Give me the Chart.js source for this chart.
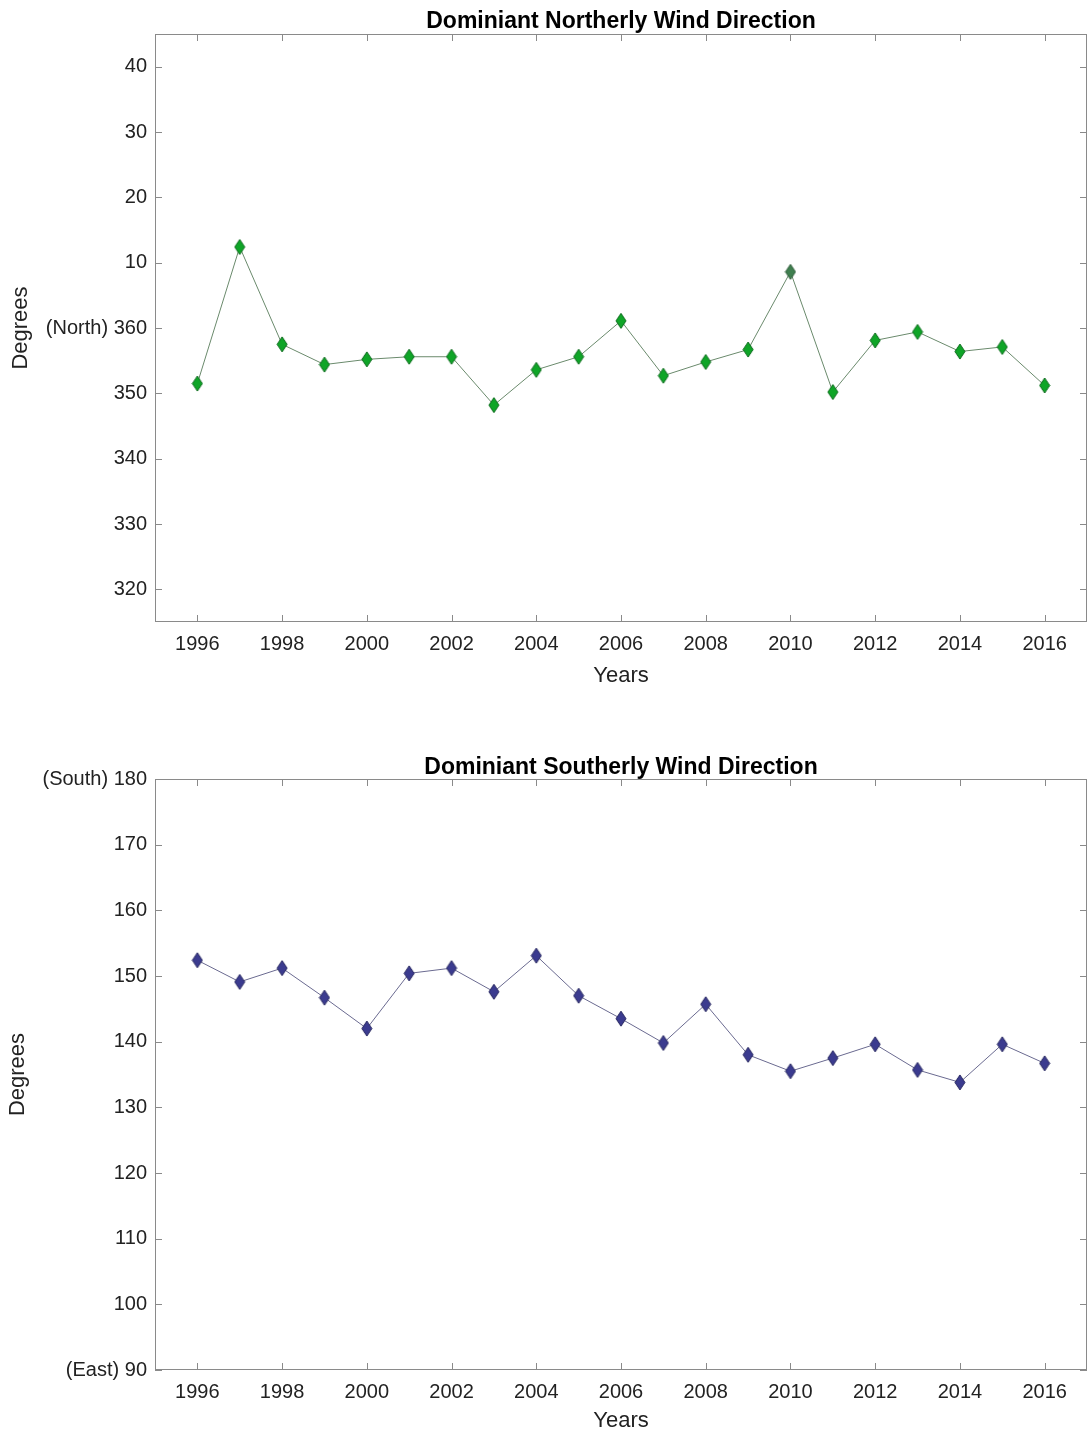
<!DOCTYPE html>
<html>
<head>
<meta charset="utf-8">
<script src="https://cdn.jsdelivr.net/npm/chart.js@4"></script>
<style>
    body { margin: 0; background: #fff; }
    canvas { display: block; }
</style>
</head>
<body>
<canvas id="northChart" width="1089" height="700"></canvas>
<canvas id="southChart" width="1089" height="734"></canvas>
<script>
const years = [1996, 1997, 1998, 1999, 2000, 2001, 2002, 2003, 2004, 2005, 2006,
               2007, 2008, 2009, 2010, 2011, 2012, 2013, 2014, 2015, 2016];

// compass degrees
const northDeg = [351.5, 12.4, 357.5, 354.4, 355.2, 355.6, 355.6, 348.2, 353.6, 355.6, 1.1,
                  352.7, 354.8, 356.7, 8.6, 350.2, 358.1, 359.4, 356.4, 357.1, 351.2];
const southDeg = [152.4, 149.1, 151.2, 146.7, 142.0, 150.4, 151.2, 147.6, 153.1, 147.0, 143.5,
                  139.8, 145.7, 138.0, 135.5, 137.5, 139.6, 135.7, 133.8, 139.6, 136.7];

const xTicks = [1996, 1998, 2000, 2002, 2004, 2006, 2008, 2010, 2012, 2014, 2016];

// north axis is unwrapped past 360 so 10 -> 370 etc.
const northTickValues = [320, 330, 340, 350, 360, 370, 380, 390, 400];
const northTickLabels = ["320", "330", "340", "350", "(North) 360", "10", "20", "30", "40"];
const southTickValues = [90, 100, 110, 120, 130, 140, 150, 160, 170, 180];
const southTickLabels = ["(East) 90", "100", "110", "120", "130", "140", "150", "160", "170", "(South) 180"];

const FONT = "'Liberation Sans', Arial, sans-serif";
const AXIS_COLOR = "#8a8a8a";

function diamond(fill, stroke) {
    const c = document.createElement("canvas");
    c.width = 12;
    c.height = 17;
    const g = c.getContext("2d");
    g.beginPath();
    g.moveTo(6, 1);
    g.lineTo(11, 8.5);
    g.lineTo(6, 16);
    g.lineTo(1, 8.5);
    g.closePath();
    g.fillStyle = fill;
    g.fill();
    g.lineWidth = 1;
    g.strokeStyle = stroke;
    g.stroke();
    return c;
}

const greenMark = diamond("#0fa527", "#0b6a1b");
const darkGreenMark = diamond("#3f7f4f", "#2c5a37");
const blueMark = diamond("#3b3b8f", "#26265f");

// matlab style box with inward ticks + title over the plot area
const boxPlugin = {
    id: "box",
    afterDraw(chart, args, opts) {
        const { ctx, chartArea: a, scales } = chart;
        ctx.save();
        ctx.strokeStyle = AXIS_COLOR;
        ctx.lineWidth = 1;
        ctx.strokeRect(a.left + 0.5, a.top + 0.5, a.right - a.left - 1, a.bottom - a.top - 1);
        ctx.beginPath();
        const tl = 7;
        scales.x.ticks.forEach(t => {
            const px = Math.round(scales.x.getPixelForValue(t.value)) + 0.5;
            ctx.moveTo(px, a.bottom);
            ctx.lineTo(px, a.bottom - tl);
            ctx.moveTo(px, a.top);
            ctx.lineTo(px, a.top + tl);
        });
        scales.y.ticks.forEach(t => {
            const py = Math.round(scales.y.getPixelForValue(t.value)) + 0.5;
            ctx.moveTo(a.left, py);
            ctx.lineTo(a.left + tl, py);
            ctx.moveTo(a.right, py);
            ctx.lineTo(a.right - tl, py);
        });
        ctx.stroke();

        ctx.fillStyle = "#000";
        ctx.font = "bold 23px " + FONT;
        ctx.textAlign = "center";
        ctx.textBaseline = "alphabetic";
        ctx.fillText(opts.text, (a.left + a.right) / 2, opts.baseline);
        ctx.restore();
    }
};

function makeChart(id, values, lineColor, mark, tickValues, tickLabels, cfg) {
    const ctx = document.getElementById(id).getContext("2d");
    return new Chart(ctx, {
        type: "line",
        data: {
            datasets: [{
                data: years.map((yr, i) => ({ x: yr, y: values[i] })),
                borderColor: lineColor,
                borderWidth: 1,
                tension: 0,
                pointStyle: mark,
                pointRadius: 6,
                pointHoverRadius: 6
            }]
        },
        options: {
            responsive: false,
            animation: false,
            devicePixelRatio: 1,
            layout: {
                autoPadding: false,
                padding: { top: cfg.top, right: 2, bottom: 0, left: 0 }
            },
            plugins: {
                legend: { display: false },
                tooltip: { enabled: false },
                box: { text: cfg.title, baseline: cfg.titleBaseline }
            },
            scales: {
                x: {
                    type: "linear",
                    min: 1995,
                    max: 2017,
                    grid: { display: false, drawTicks: false },
                    border: { display: false },
                    afterBuildTicks: s => { s.ticks = xTicks.map(v => ({ value: v })); },
                    afterFit: s => {
                        s.height = cfg.xHeight;
                        s.paddingLeft = 0;
                        s.paddingRight = 0;
                    },
                    ticks: {
                        padding: 10,
                        color: "#222",
                        font: { family: FONT, size: 20 },
                        maxRotation: 0,
                        callback: v => String(v)
                    },
                    title: {
                        display: true,
                        text: "Years",
                        color: "#222",
                        font: { family: FONT, size: 22 },
                        padding: { top: 0, bottom: cfg.yearsPad }
                    }
                },
                y: {
                    min: cfg.min,
                    max: cfg.max,
                    grid: { display: false, drawTicks: false },
                    border: { display: false },
                    afterBuildTicks: s => { s.ticks = tickValues.map(v => ({ value: v })); },
                    afterFit: s => {
                        s.width = 155;
                        s.paddingTop = 0;
                        s.paddingBottom = 0;
                    },
                    ticks: {
                        padding: 8,
                        color: "#222",
                        font: { family: FONT, size: 20 },
                        callback: v => tickLabels[tickValues.indexOf(v)]
                    },
                    title: {
                        display: true,
                        text: "Degrees",
                        color: "#222",
                        font: { family: FONT, size: 22 },
                        padding: { top: cfg.degPad, bottom: 0 }
                    }
                }
            }
        },
        plugins: [boxPlugin]
    });
}

// unwrap the northerly values so they plot continuously around 360
const northPlot = northDeg.map(d => d < 180 ? d + 360 : d);

makeChart("northChart", northPlot, "#6a8a6c",
    c => years[c.dataIndex] === 2010 ? darkGreenMark : greenMark,
    northTickValues, northTickLabels,
    { top: 34, xHeight: 78, min: 315, max: 405, title: "Dominiant Northerly Wind Direction",
      titleBaseline: 28, yearsPad: 11, degPad: 8 });

makeChart("southChart", southDeg, "#6a6a90", blueMark,
    southTickValues, southTickLabels,
    { top: 79, xHeight: 64, min: 90, max: 180, title: "Dominiant Southerly Wind Direction",
      titleBaseline: 74, yearsPad: 0, degPad: 5 });
</script>
</body>
</html>
